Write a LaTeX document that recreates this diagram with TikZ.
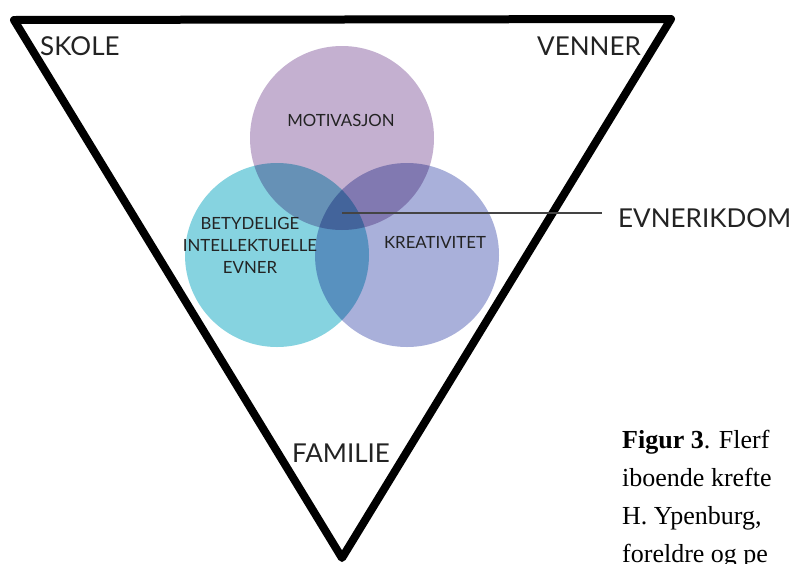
\documentclass[tikz,border=0pt]{standalone}
\usepackage{fontspec}
\setmainfont{Liberation Serif}
\newfontfamily\gothic{Lato}
\usetikzlibrary{positioning}

\definecolor{motcol}{RGB}{196,176,208}
\definecolor{intcol}{RGB}{134,211,224}
\definecolor{krecol}{RGB}{169,176,218}
\definecolor{inkcol}{RGB}{35,35,35}

\tikzset{
  ring/.style={circle,minimum size=184pt,inner sep=0pt,fill=#1,blend mode=multiply},
  bigword/.style={font=\gothic\fontsize{26}{26}\selectfont,inner sep=0pt,text=inkcol},
  smallword/.style={font=\gothic\fontsize{16.8}{22}\selectfont,inner sep=0pt,text=inkcol,align=center},
  capline/.style={font=\fontsize{26}{38}\selectfont,inner sep=0pt,anchor=base west}
}

\begin{document}
\begin{tikzpicture}[x=1pt,y=-1pt]
   \clip (0,0) rectangle (795,563);
   \fill[white] (0,0) rectangle (795,563);

   % the three surroundings
   \coordinate (tl) at (14,20);
   \coordinate (tr) at (671,19);
   \coordinate (bt) at (342,558);
   \draw[line width=8pt,line join=round] (tl) -- (tr) -- (bt) -- cycle;

   % the three circles
   \node[ring=motcol] (mot) at (342,138) {};
   \node[ring=intcol] (int) at (277,255) {};
   \node[ring=krecol] (kre) at (407,255) {};

   \node[smallword] (motl) at (341,120) {MOTIVASJON};
   \node[smallword] (intl) at (250,245) {BETYDELIGE\\INTELLEKTUELLE\\EVNER};
   \node[smallword] (krel) at (435,242) {KREATIVITET};

   \node[bigword,anchor=base west] (skole) at (40,55) {SKOLE};
   \node[bigword,anchor=base east] (venner) at (641,55) {VENNER};
   \node[bigword,anchor=base] (familie) at (341,462) {FAMILIE};
   \node[bigword,anchor=base west,inner xsep=16pt] (evne) at (602,227) {EVNERIKDOM};

   \coordinate (mid) at (342,213);
   \draw[line width=1.2pt,inkcol!85] (mid) -- (mid -| evne.west);

   % caption, cut by the page edge
   \node[capline] (cap1) at (622,448) {\textbf{Figur 3}. Flerf};
   \node[capline] (cap2) at (622,486) {iboende krefte};
   \node[capline] (cap3) at (622,524) {H. Ypenburg,};
   \node[capline] (cap4) at (622,562) {foreldre og pe};
\end{tikzpicture}
\end{document}
